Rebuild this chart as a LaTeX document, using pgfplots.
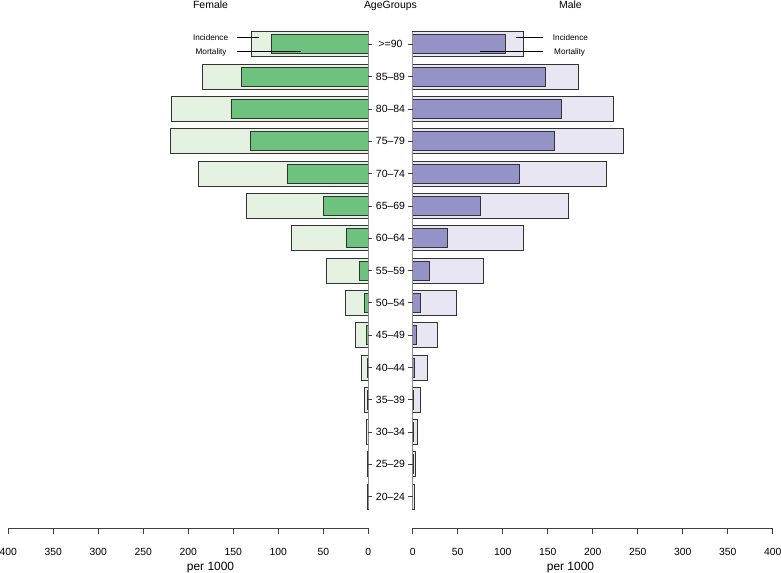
\documentclass[border=0pt]{standalone}
\usepackage{pgfplots}
\pgfplotsset{compat=1.18}
\usepackage{pgfplotstable}
\usepackage{fontspec}
\setmainfont{Liberation Sans}
\definecolor{fInc}{HTML}{E5F1E1}
\definecolor{fMor}{HTML}{6DC27D}
\definecolor{mInc}{HTML}{E8E6F2}
\definecolor{mMor}{HTML}{9393C8}
\definecolor{edge}{HTML}{333333}
\definecolor{zline}{HTML}{8C8C8C}
\definecolor{axc}{HTML}{404040}

\pgfplotstableread{
y  finc  fmor  minc  mmor
14 130.3 107.3 123.0 103.4
13 184.4 140.7 184.2 147.5
12 218.4 152.6 222.5 165.7
11 219.5 131.4 234.3 157.5
10 188.9  90.0 215.0 118.6
9  135.9  50.0 173.0  75.0
8   85.9  24.0 123.4  39.0
7   47.0  10.0  79.0  19.0
6   25.5   4.4  49.0   8.5
5   14.0   2.0  27.8   4.0
4    7.8   1.0  16.2   1.8
3    4.4   0.5   9.0   0.6
2    2.5   0.3   5.1   0.4
1    1.4   0.2   3.6   0.3
0    1.0   0.1   1.8   0.2
}\data

\pgfplotsset{pyr/.style={
  scale only axis, width=360bp, height=500.1bp,
  xmin=0, xmax=400, ymin=-0.978, ymax=14.5,
  axis x line*=bottom,
  xtick={0,50,...,400}, tick align=outside, major tick length=6bp,
  x axis line style={draw=axc, line width=0.8bp},
  xtick style={draw=axc, line width=0.8bp},
  xticklabel style={font=\fontsize{10.4}{12}\selectfont, yshift=-10bp},
  /pgf/number format/assume math mode=true,
  clip=false,
}}

\begin{document}
\begin{tikzpicture}
\path[use as bounding box] (0,0) rectangle (781bp,573bp);

% Female
\begin{axis}[pyr, at={(8.3bp,44.7bp)}, anchor=south west,
  x dir=reverse, axis y line=none]
\addplot[xbar, bar width=25bp, bar shift=0pt, fill=fInc, draw=edge, line width=0.9bp] table[x=finc, y=y]{\data};
\addplot[xbar, bar width=19bp, bar shift=0pt, fill=fMor, draw=edge, line width=0.9bp] table[x=fmor, y=y]{\data};
\draw[zline, line width=1bp] (axis cs:0,-0.387) -- (axis cs:0,14.387);
\pgfplotsinvokeforeach{0,...,14}{\draw[axc, line width=0.8bp] (axis cs:0,#1) -- ([xshift=3.5bp]axis cs:0,#1);}
\draw[black, line width=0.6bp] (axis cs:145.9,14.207) -- (axis cs:121.9,14.207);
\draw[black, line width=0.6bp] (axis cs:145.9,13.783) -- (axis cs:74.8,13.783);
\node[anchor=base east, inner sep=0pt, font=\fontsize{8.2}{10}\selectfont] at (axis cs:155.6,14.207) [yshift=-2.9bp] {Incidence};
\node[anchor=base east, inner sep=0pt, font=\fontsize{8.2}{10}\selectfont] at (axis cs:157.3,13.783) [yshift=-2.9bp] {Mortality};
\node[anchor=base, inner sep=0pt, font=\fontsize{10.5}{12}\selectfont] at (axis cs:175.3,14.5) [yshift=19.7bp] {Female};
\node[anchor=base, inner sep=0pt, font=\fontsize{12}{14}\selectfont] at (axis cs:175.3,-0.978) [yshift=-42bp] {per 1000};
\end{axis}

% Male
\begin{axis}[pyr, at={(412.7bp,44.7bp)}, anchor=south west,
  axis y line*=left, y axis line style={draw=none}, ytick style={draw=none},
  ytick={0,...,14},
  yticklabels={20--24,25--29,30--34,35--39,40--44,45--49,50--54,55--59,60--64,65--69,70--74,75--79,80--84,85--89,>=90},
  yticklabel style={font=\fontsize{10.5}{12}\selectfont, anchor=center, xshift=-16.2bp}]
\addplot[xbar, bar width=25bp, bar shift=0pt, fill=mInc, draw=edge, line width=0.9bp] table[x=minc, y=y]{\data};
\addplot[xbar, bar width=19bp, bar shift=0pt, fill=mMor, draw=edge, line width=0.9bp] table[x=mmor, y=y]{\data};
\draw[zline, line width=1bp] (axis cs:0,-0.387) -- (axis cs:0,14.387);
\pgfplotsinvokeforeach{0,...,14}{\draw[axc, line width=0.8bp] (axis cs:0,#1) -- ([xshift=-4.5bp]axis cs:0,#1);}
\draw[black, line width=0.6bp] (axis cs:114.9,14.207) -- (axis cs:145.3,14.207);
\draw[black, line width=0.6bp] (axis cs:74.9,13.783) -- (axis cs:145.3,13.783);
\node[anchor=base west, inner sep=0pt, font=\fontsize{8.2}{10}\selectfont] at (axis cs:155.6,14.207) [yshift=-2.9bp] {Incidence};
\node[anchor=base west, inner sep=0pt, font=\fontsize{8.2}{10}\selectfont] at (axis cs:157.0,13.783) [yshift=-2.9bp] {Mortality};
\node[anchor=base, inner sep=0pt, font=\fontsize{10.5}{12}\selectfont] at (axis cs:175.3,14.5) [yshift=19.7bp] {Male};
\node[anchor=base, inner sep=0pt, font=\fontsize{10.5}{12}\selectfont] at (axis cs:-24.7,14.5) [yshift=19.7bp] {AgeGroups};
\node[anchor=base, inner sep=0pt, font=\fontsize{12}{14}\selectfont] at (axis cs:175.3,-0.978) [yshift=-42bp] {per 1000};
\end{axis}
\end{tikzpicture}
\end{document}
